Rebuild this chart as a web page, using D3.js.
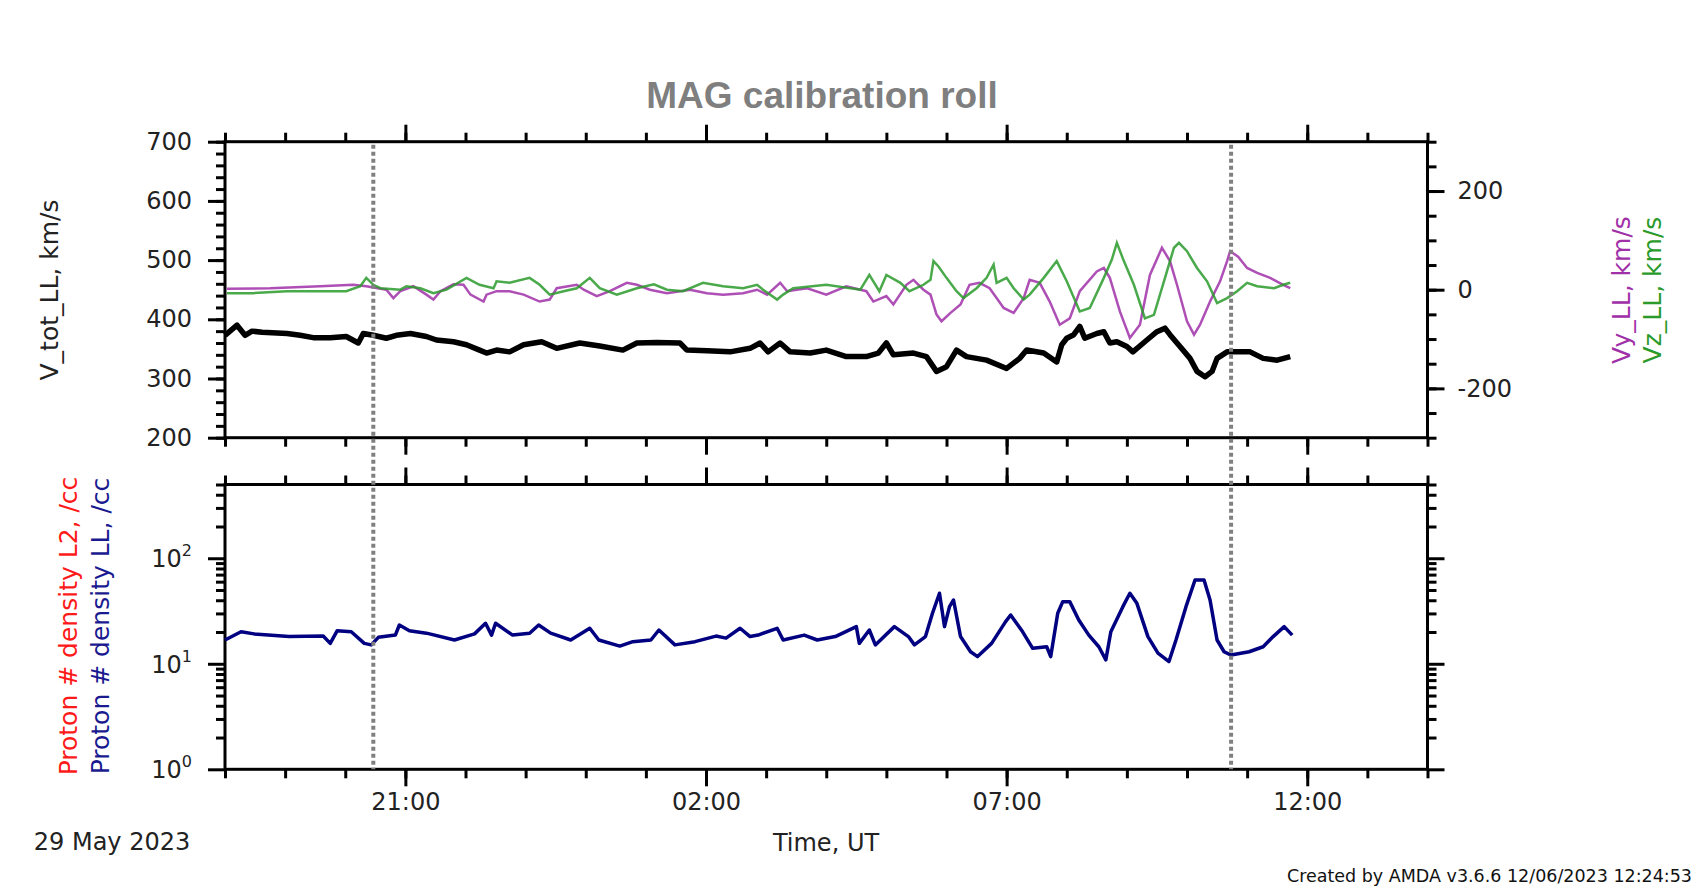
<!DOCTYPE html>
<html><head><meta charset="utf-8">
<script src="https://cdn.jsdelivr.net/npm/d3@7"></script>
<style>
html,body{margin:0;padding:0;background:#fff;}
svg{display:block;}
</style></head><body>
<svg id="chart" width="1695" height="887" font-family="DejaVu Sans, sans-serif"></svg>
<script>
// ---------------- DATA ----------------
// time axis: minutes after 29 May 2023 18:00 UT
const startTime = Date.UTC(2023, 4, 29, 18, 0);
const timeTickLabels = ["21:00", "02:00", "07:00", "12:00"];
const vLeftTicks = [200, 300, 400, 500, 600, 700];
const vRightTicks = [-200, 0, 200];
const densTicks = [1, 10, 100];
const markerMin = [148, 1004];

const vtotMin = [0,12,20,27,37,62,75,88,105,121,133,138,148,161,171,185,201,211,228,241,254,261,271,284,298,316,331,354,374,397,411,431,454,461,481,504,524,534,542,554,564,584,600,620,640,652,660,667,687,700,710,720,730,740,760,780,793,800,817,830,835,840,847,853,858,870,877,883,890,900,906,920,930,938,943,953,963,970,978,985,990,1000,1013,1023,1036,1050,1063];
const vtotVal = [373,390,373,380,378,376,373,369,369,371,360,376,373,368,373,376,371,365,362,357,348,343,348,345,357,362,351,360,355,348,360,361,360,348,347,345,351,360,345,360,345,343,348,337,337,343,360,340,343,337,312,320,348,337,331,317,334,348,343,328,357,368,374,388,368,376,379,360,362,354,345,365,379,385,374,354,334,312,303,312,334,345,345,345,334,331,337];

const vyMin = [2,45,95,128,141,161,168,175,188,201,208,215,228,238,245,258,261,271,284,298,314,324,331,351,358,371,384,401,411,424,441,464,481,497,517,531,541,554,561,581,600,620,640,647,660,667,680,687,697,704,710,715,724,734,743,753,763,770,777,787,797,803,813,823,833,843,853,870,877,883,893,903,913,923,935,943,950,960,967,973,983,993,1000,1003,1011,1020,1030,1043,1056,1063];
const vyVal = [2,3,7,10,7,0,-17,-3,7,-10,-20,-3,11,10,-10,-24,-10,-3,-3,-10,-24,-20,3,10,0,-13,-3,14,10,0,-7,0,-7,-10,-7,0,-10,14,-3,3,-10,7,-3,-24,-13,-30,10,20,0,-10,-50,-64,-47,-30,10,14,3,-17,-37,-47,-17,20,14,-24,-71,-58,-3,37,44,24,-44,-98,-71,30,85,58,10,-64,-91,-71,-24,17,58,78,67,44,34,24,10,3];

const vzMin = [2,28,62,95,121,135,141,148,155,175,181,195,208,221,241,254,268,271,284,304,314,324,338,351,364,374,391,411,428,441,457,477,497,517,531,537,551,557,567,600,634,643,653,660,674,683,697,704,707,712,720,730,737,750,760,767,770,780,787,797,803,817,830,840,853,863,877,885,890,897,907,918,927,937,947,952,960,970,980,990,1000,1010,1020,1030,1047,1056,1063];
const vzVal = [-7,-7,-3,-3,-3,7,24,10,3,0,7,3,-7,0,24,10,3,17,14,24,10,-10,-3,3,24,3,-10,3,11,0,-3,14,7,3,10,0,-20,-10,3,10,0,30,-3,30,14,-3,10,20,58,47,24,-3,-17,3,24,51,14,24,3,-20,-10,24,58,17,-44,-37,24,61,95,58,10,-58,-51,17,85,95,78,44,17,-27,-17,-3,14,7,3,10,14];

const densMin = [0,16,29,64,98,105,112,126,139,146,153,170,174,184,201,229,249,260,266,270,287,304,313,325,345,364,373,394,407,425,433,449,469,490,500,514,524,532,551,557,578,591,609,630,633,643,649,668,682,688,699,706,713,718,723,727,734,744,751,765,779,784,796,806,820,824,831,836,843,852,862,872,879,884,896,903,910,921,931,942,949,959,968,977,983,990,997,1004,1022,1036,1046,1057,1065];
const densVal = [16.8,20.1,19.2,18.1,18.3,15.6,20.6,20.1,15.6,15.1,17.8,18.7,23.3,20.6,19.5,16.8,19.2,24.2,18.7,24.2,18.7,19.5,23.3,19.5,16.8,21.7,16.8,14.7,16.2,16.8,20.9,15.1,16.2,18.3,17.5,21.7,18.1,18.7,21.7,16.8,18.7,16.8,18.1,22.5,15.6,20.9,15.1,22.5,18.1,15.1,18.1,30.1,46.6,22.5,34.8,40.2,18.1,13.0,11.7,15.6,25.1,29.0,20.1,14.0,14.5,11.7,30.1,38.8,38.8,26.0,18.7,14.5,10.9,20.1,34.8,46.6,37.4,18.1,12.6,10.5,16.8,34.8,62.3,62.3,40.2,16.8,13.0,12.1,13.0,14.5,18.1,22.5,18.7];

// ---------------- SCALES ----------------
const svg = d3.select("#chart");
const X0 = 225, X1 = 1427.5;
const P1 = {top: 141.7, bot: 437.7};
const P2 = {top: 484.5, bot: 769.3};
const toDate = m => new Date(startTime + m * 60000);

const x = d3.scaleUtc().domain([toDate(0), toDate(20 * 60)]).range([X0, X1]);
const yV = d3.scaleLinear().domain([200, 700]).range([P1.bot, P1.top]);
const yR = d3.scaleLinear().domain([-300, 300]).range([P1.bot, P1.top]);
const yN = d3.scaleLog().domain([1, 500]).range([P2.bot, P2.top]);

const majorTimes = timeTickLabels.map(s => {
  const [h, m] = s.split(":").map(Number);
  const dayOff = h < 18 ? 1 : 0;
  return new Date(Date.UTC(2023, 4, 29 + dayOff, h, m));
});
const hourTicks = d3.utcHour.range(toDate(0), toDate(20 * 60 + 1));
const fmt = d3.utcFormat("%H:%M");
const intFmt = d => String(d);  // plain hyphen-minus like the original

const MAJ = 17, MIN = 9;
function styleAxis(g) {
  g.select(".domain").remove();
  g.attr("font-family", null).attr("font-size", null);
  g.selectAll(".tick line").attr("stroke", "#000").attr("stroke-width", 3);
  g.selectAll(".tick text").attr("fill", "#222").attr("font-size", 24);
}
function addAxis(axis, tx, ty) {
  const g = svg.append("g").attr("transform", `translate(${tx},${ty})`).call(axis);
  styleAxis(g);
  return g;
}

// time axes for both panels
[[P1.top, d3.axisTop], [P1.bot, d3.axisBottom], [P2.top, d3.axisTop], [P2.bot, d3.axisBottom]].forEach(([yy, ax], i) => {
  addAxis(ax(x).tickValues(hourTicks).tickSize(MIN).tickFormat(""), 0, yy);
  const labelled = i === 3;
  addAxis(ax(x).tickValues(majorTimes).tickSize(MAJ).tickPadding(7)
      .tickFormat(labelled ? fmt : ""), 0, yy);
});

// top panel left axis
addAxis(d3.axisLeft(yV).tickValues(d3.range(200, 701, 20)).tickSize(MIN).tickFormat(""), X0, 0);
addAxis(d3.axisLeft(yV).tickValues(vLeftTicks).tickSize(MAJ).tickPadding(16).tickFormat(intFmt), X0, 0);
// top panel right axis
addAxis(d3.axisRight(yR).tickValues(d3.range(-300, 301, 50)).tickSize(MIN).tickFormat(""), X1, 0);
addAxis(d3.axisRight(yR).tickValues(vRightTicks).tickSize(MAJ).tickPadding(13).tickFormat(intFmt), X1, 0);

// bottom panel log axes
const logMinor = [];
[1, 10, 100].forEach(dec => { for (let k = 2; k <= 9; k++) if (dec * k <= 500) logMinor.push(dec * k); });
[[X0, d3.axisLeft], [X1, d3.axisRight]].forEach(([xx, ax]) => {
  addAxis(ax(yN).tickValues(logMinor).tickSize(MIN).tickFormat(""), xx, 0);
  addAxis(ax(yN).tickValues(densTicks).tickSize(MAJ).tickFormat(""), xx, 0);
});
// log labels 10^n
const logLab = svg.append("g").selectAll("text").data(densTicks).join("text")
  .attr("x", 192).attr("y", d => yN(d) + 9)
  .attr("text-anchor", "end").attr("font-size", 24).attr("fill", "#222");
logLab.append("tspan").text("10");
logLab.append("tspan").attr("dy", -11).attr("font-size", 16).text(d => Math.round(Math.log10(d)));

// panel frames
[[P1.top, P1.bot], [P2.top, P2.bot]].forEach(([t, b]) => {
  svg.append("rect").attr("x", X0).attr("y", t).attr("width", X1 - X0).attr("height", b - t)
    .attr("fill", "none").attr("stroke", "#000").attr("stroke-width", 3);
});

// ---------------- DATA MARKS ----------------
const zip = (a, b) => a.map((t, i) => ({t: toDate(t), v: b[i]}));
const vtot = zip(vtotMin, vtotVal);
const vy = zip(vyMin, vyVal);
const vz = zip(vzMin, vzVal);
const dens = zip(densMin, densVal);

svg.append("path").datum(vy)
  .attr("d", d3.line().x(d => x(d.t)).y(d => yR(d.v)))
  .attr("fill", "none").attr("stroke", "#a030a8").attr("stroke-width", 2.5).attr("opacity", 0.85);
svg.append("path").datum(vz)
  .attr("d", d3.line().x(d => x(d.t)).y(d => yR(d.v)))
  .attr("fill", "none").attr("stroke", "#2a9a2a").attr("stroke-width", 2.5).attr("opacity", 0.85);
svg.append("path").datum(vtot)
  .attr("d", d3.line().x(d => x(d.t)).y(d => yV(d.v)))
  .attr("fill", "none").attr("stroke", "#000").attr("stroke-width", 5.5).attr("stroke-linejoin", "round");
svg.append("path").datum(dens)
  .attr("d", d3.line().x(d => x(d.t)).y(d => yN(d.v)))
  .attr("fill", "none").attr("stroke", "#000080").attr("stroke-width", 3.5).attr("stroke-linejoin", "round");

// dotted markers
svg.append("g").selectAll("line").data(markerMin).join("line")
  .attr("x1", d => x(toDate(d))).attr("x2", d => x(toDate(d)))
  .attr("y1", P1.top + 3).attr("y2", P2.bot)
  .attr("stroke", "#808080").attr("stroke-width", 4).attr("stroke-dasharray", "4,3");

// ---------------- TEXT ----------------
svg.append("text").attr("x", 822).attr("y", 108).attr("text-anchor", "middle")
  .attr("font-family", "Liberation Sans, Arial, sans-serif").attr("font-weight", "bold")
  .attr("font-size", 37).attr("fill", "#7f7f7f").text("MAG calibration roll");

function rotLabel(cx, cy, txt, col) {
  svg.append("text").attr("transform", `translate(${cx},${cy}) rotate(-90)`)
    .attr("text-anchor", "middle").attr("dy", "0.35em").attr("font-size", 25)
    .attr("fill", col).text(txt);
}
rotLabel(49, 290, "V_tot_LL, km/s", "#222");
rotLabel(1621, 290, "Vy_LL, km/s", "#a030a8");
rotLabel(1652, 290, "Vz_LL, km/s", "#2a9a2a");
rotLabel(68, 626, "Proton # density L2, /cc", "#ff1a1a");
rotLabel(100, 626, "Proton # density LL, /cc", "#1a1a90");

svg.append("text").attr("x", 826).attr("y", 851).attr("text-anchor", "middle")
  .attr("font-size", 24).attr("fill", "#222").text("Time, UT");
svg.append("text").attr("x", 112).attr("y", 850).attr("text-anchor", "middle")
  .attr("font-size", 24).attr("fill", "#222").text("29 May 2023");
svg.append("text").attr("x", 1692).attr("y", 882).attr("text-anchor", "end")
  .attr("font-size", 17.5).attr("fill", "#111").text("Created by AMDA v3.6.6 12/06/2023 12:24:53");
</script>
</body></html>
